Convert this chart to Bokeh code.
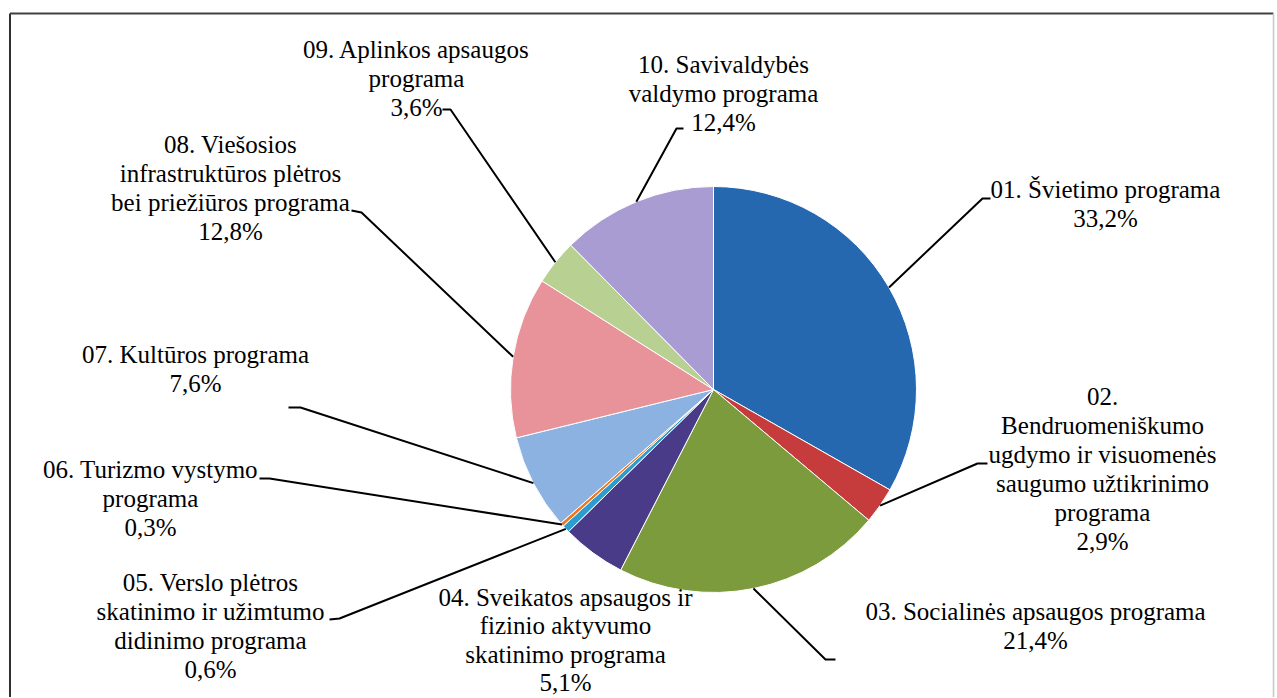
import math
from bokeh.plotting import figure
from bokeh.models import Range1d, ColumnDataSource
from bokeh.core.properties import value
from bokeh.embed import file_html
from bokeh.resources import INLINE

# ---------------- data ----------------
categories = [
    "01. Švietimo programa",
    "02.\nBendruomeniškumo\nugdymo ir visuomenės\nsaugumo užtikrinimo\nprograma",
    "03. Socialinės apsaugos programa",
    "04. Sveikatos apsaugos ir\nfizinio aktyvumo\nskatinimo programa",
    "05. Verslo plėtros\nskatinimo ir užimtumo\ndidinimo programa",
    "06. Turizmo vystymo\nprograma",
    "07. Kultūros programa",
    "08. Viešosios\ninfrastruktūros plėtros\nbei priežiūros programa",
    "09. Aplinkos apsaugos\nprograma",
    "10. Savivaldybės\nvaldymo programa",
]
shares = [33.2, 2.9, 21.4, 5.1, 0.6, 0.3, 7.6, 12.8, 3.6, 12.4]

# ---------------- styles / layout ----------------
colors = ["#2668B0", "#C63C3C", "#7C9B3C", "#4A3B89", "#2E9CCF",
          "#F2781F", "#8CB2E2", "#E8939A", "#B8D192", "#A99CD3"]

W, H = 1276, 697
def X(px):
    return px
def Y(py):
    return H - py

CX, CY, R = X(713), Y(389), 203
FONT = "Liberation Serif, Tinos, Times New Roman, Times, serif"
FS = "25px"

# label anchor: (center x, first line y, line step) in page pixels
label_pos = [(1105, 189, 29), (1102, 396, 29), (1035, 611, 29),
             (565, 597, 28.3), (210, 582, 29), (150, 469, 29),
             (195, 354, 29), (230, 144, 29), (416, 49, 29), (723, 64, 29)]
# leader: label end point and elbow (page px); None = no leader
leader_pts = [((990, 198), (982, 198)), ((987, 463), (977, 463)),
              ((835, 659), (825, 659)), None,
              ((329, 619), (339, 618)), ((259, 478), (269, 478)),
              ((288, 407), (300, 407)), ((351, 210), (361, 212)),
              ((442, 109), (450, 109)), ((683, 128), (676, 128))]

p = figure(width=W, height=H, output_backend="svg", toolbar_location=None,
           x_range=Range1d(0, W), y_range=Range1d(0, H), min_border=0,
           background_fill_color="white", border_fill_color="white")
p.axis.visible = False
p.grid.visible = False
p.outline_line_color = None

# frame
p.line([X(9.5), X(9.5)], [Y(697), Y(13)], line_color="#303030", line_width=2)
p.line([X(9.5), X(1273)], [Y(13), Y(13)], line_color="#404040", line_width=2)
p.line([X(1273), X(1273)], [Y(13), Y(697)], line_color="#C8C8C8", line_width=1.5)

# wedges
total = sum(shares)
starts, ends, mids = [], [], []
c = 0.0
for v in shares:
    c0 = c / total
    c += v
    c1 = c / total
    starts.append(math.pi / 2 - 2 * math.pi * c0)
    ends.append(math.pi / 2 - 2 * math.pi * c1)
    mids.append(2 * math.pi * (c0 + c1) / 2)

src = ColumnDataSource(dict(x=[CX] * len(shares), y=[CY] * len(shares),
                            s=starts, e=ends, color=colors))
p.wedge(x="x", y="y", radius=R, start_angle="s", end_angle="e",
        direction="clock", fill_color="color", line_color="white",
        line_width=1, source=src)

# leader lines
for i, lp in enumerate(leader_pts):
    if lp is None:
        continue
    (ax, ay), (bx, by) = lp
    th = mids[i]
    ex = CX + R * math.sin(th)
    ey = CY + R * math.cos(th)
    p.line([X(ax), X(bx), ex], [Y(ay), Y(by), ey], line_color="black",
           line_width=2)

# labels
tx, ty, tt = [], [], []
for i, name in enumerate(categories):
    lines = name.split("\n") + [f"{shares[i]:.1f}".replace(".", ",") + "%"]
    lx, ly, step = label_pos[i]
    for k, ln in enumerate(lines):
        tx.append(X(lx))
        ty.append(Y(ly + k * step))
        tt.append(ln)
p.text(x=tx, y=ty, text=tt, text_align="center", text_baseline="alphabetic",
       text_font=value(FONT), text_font_size=FS, text_color="black")

open("out.html", "w").write(file_html(p, INLINE))
